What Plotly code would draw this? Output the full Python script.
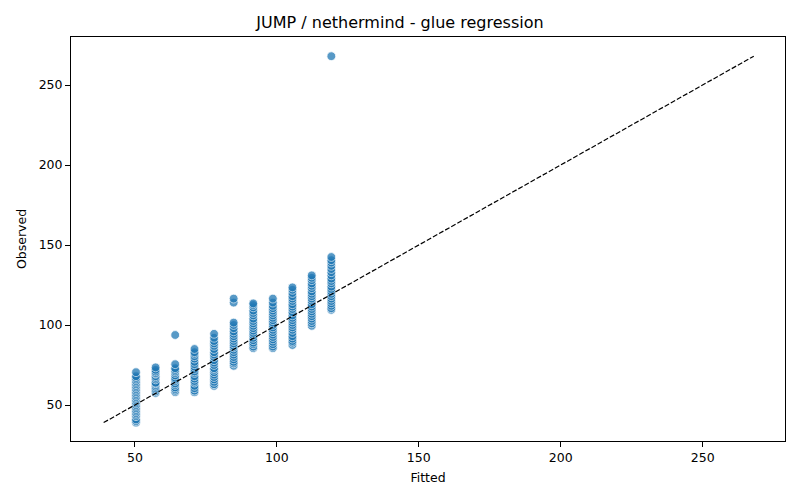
import plotly.graph_objects as go

fitted_levels = [50.4, 57.3, 64.2, 71.0, 77.9, 84.8, 91.7, 98.6, 105.5, 112.3, 119.2]

obs_1 = [39, 40, 41, 43, 44, 45, 46, 47, 48, 49, 50, 51, 52, 53, 54, 55, 56, 57, 58, 59,
         60, 61, 62, 63, 64, 65, 66, 67, 68, 70.5]
obs_2 = [57.5, 58.5, 59.5, 60.5, 61.5, 62.5, 63.5, 64, 66, 67, 68, 69.5, 70, 71, 72, 73.5]
obs_3 = [58, 59, 60, 61, 62.5, 63.5, 65, 66, 67, 68.5, 70, 71, 72, 73, 75.5, 93.75]
obs_4 = [58, 59, 60.5, 62, 64, 65, 66.5, 68, 70, 71, 72.5, 74, 75.5, 77, 79, 80.5, 82, 83, 85]
obs_5 = [62, 63, 64.5, 66, 67.5, 69, 70.5, 72, 73, 75, 76.5, 78, 80, 81.5, 83, 85, 87, 88.5,
         90, 92, 94.5]
obs_6 = [74.5, 76, 77, 78.5, 80, 81.5, 83, 84.5, 86, 87, 88.5, 90, 91.5, 93, 94.5, 96, 98,
         100, 101.5, 114, 116.5]
obs_7 = [85.5, 86.5, 88, 89, 90.5, 92, 93.5, 95, 96.5, 98, 99.5, 101, 102.5, 104, 106, 107.5,
         109, 111, 112.5, 113.5]
obs_8 = [85.5, 86.5, 88, 89.5, 91, 92.5, 94, 95.5, 97, 98.5, 100, 101.5, 103, 104.5, 106,
         107.5, 109, 110.5, 112, 114, 116.5]
obs_9 = [87.5, 89, 90, 91.5, 93, 95, 97, 98.5, 100, 101.5, 103, 104.5, 106, 108, 110, 111.5,
         113, 115, 116.5, 118, 120, 122, 123.5]
obs_10 = [99.5, 101, 102.5, 104, 105.5, 107, 108.5, 110, 111.5, 113, 115, 116.5, 118, 119.5,
          121, 123, 124.5, 126, 128, 129.5, 131]
obs_11 = [109.5, 110.5, 112, 113.5, 115, 116.5, 118, 119.5, 121, 122.5, 124, 126, 127.5, 129,
          131, 133, 135, 137, 139, 140.5, 142.5, 268]

observed_groups = [obs_1, obs_2, obs_3, obs_4, obs_5, obs_6, obs_7, obs_8, obs_9, obs_10, obs_11]

x, y = [], []
for f, obs in zip(fitted_levels, observed_groups):
    x += [f] * len(obs)
    y += obs

lo = min(min(x), min(y))
hi = max(max(x), max(y))

fig = go.Figure()
fig.add_trace(go.Scatter(x=x, y=y, mode='markers',
                         marker=dict(size=8.8, color='#1f77b4', opacity=0.75,
                                     line=dict(color='white', width=0.8)),
                         showlegend=False))
fig.add_trace(go.Scatter(x=[lo, hi], y=[lo, hi], mode='lines',
                         line=dict(color='black', width=1.2, dash='5px,2px'),
                         showlegend=False))

axis = dict(showgrid=False, zeroline=False, showline=True, linecolor='black', linewidth=1,
            mirror=True, ticks='outside', ticklen=5, tickcolor='black', automargin=False,
            tickfont=dict(size=12.5, color='black'))

# page body has an 8px margin, so the figure is sized 784x484
fig.update_layout(
    width=784, height=484,
    title=dict(text='JUMP / nethermind - glue regression', x=0.5, xanchor='center',
               y=0.971, yanchor='middle', font=dict(size=16, color='black'),
               automargin=False),
    font=dict(family='DejaVu Sans', color='black'),
    plot_bgcolor='white', paper_bgcolor='white',
    margin=dict(l=63, r=7, t=29, b=51),
    xaxis=dict(axis, range=[27.5, 279], tickvals=[50, 100, 150, 200, 250],
               title=dict(text='Fitted', font=dict(size=12.5), standoff=9)),
    yaxis=dict(axis, range=[27.5, 280], tickvals=[50, 100, 150, 200, 250],
               title=dict(text='Observed', font=dict(size=12.5), standoff=9)),
)

fig.write_html('out.html')
